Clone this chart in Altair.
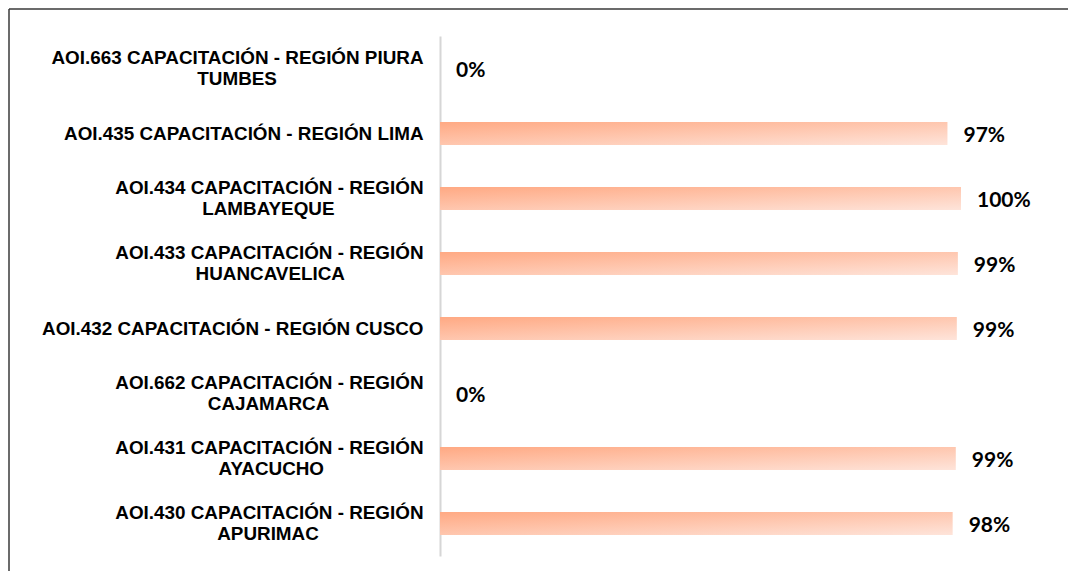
import altair as alt
import pandas as pd

# ---- data ----
line1 = [
    "AOI.663 CAPACITACIÓN - REGIÓN PIURA",
    "AOI.435 CAPACITACIÓN - REGIÓN LIMA",
    "AOI.434 CAPACITACIÓN - REGIÓN",
    "AOI.433 CAPACITACIÓN - REGIÓN",
    "AOI.432 CAPACITACIÓN - REGIÓN CUSCO",
    "AOI.662 CAPACITACIÓN - REGIÓN",
    "AOI.431 CAPACITACIÓN - REGIÓN",
    "AOI.430 CAPACITACIÓN - REGIÓN",
]
line2 = ["TUMBES", "", "LAMBAYEQUE", "HUANCAVELICA", "", "CAJAMARCA", "AYACUCHO", "APURIMAC"]
values = [0, 97.4, 100, 99.4, 99.2, 0, 99.0, 98.4]

# approximate Arial Bold advance widths (per 1000 em) to centre the 2nd line under the 1st
W = dict(A=722, B=722, C=722, D=722, E=667, F=611, G=778, H=722, I=278, J=556, K=722,
         L=611, M=833, N=722, O=778, P=667, Q=778, R=722, S=667, T=611, U=722, V=667,
         W=944, X=667, Y=667, Z=611)
W.update({d: 556 for d in "0123456789"})
W.update({".": 278, " ": 278, "-": 333, "Ó": 778})


def tw(s):
    return sum(W.get(c, 600) for c in s)


labels = []
for a, b in zip(line1, line2):
    if b:
        pad = round((tw(a) - tw(b)) / 2 / 278)
        # non-breaking spaces, closed by a zero-width space so they are not trimmed
        labels.append(a + "|" + b + "\u00a0" * pad + "\u200b")
    else:
        labels.append(a)

df = pd.DataFrame({"label": labels, "value": values})

grad = alt.Gradient(
    gradient="linear",
    stops=[alt.GradientStop(color="#ffa983", offset=0),
           alt.GradientStop(color="#fee4da", offset=1)],
    x1=0, y1=0, x2=1, y2=1,
)

yenc = alt.Y(
    "label:N",
    sort=labels,
    scale=alt.Scale(paddingInner=0.645, paddingOuter=0.3225),
    axis=alt.Axis(
        title=None,
        labelExpr="split(datum.label, '|')",
        labelFont="Liberation Sans",
        labelFontWeight="bold",
        labelFontSize=18.85,
        labelLineHeight=21,
        labelColor="#000000",
        labelLimit=600,
        labelPadding=17,
        labelOffset={"condition": {"test": "indexof(datum.label, '|') >= 0", "value": -10.5},
                     "value": 0},
        ticks=False,
        domainColor="#d6d6d6",
        domainWidth=2,
        grid=False,
    ),
)
xenc = alt.X("value:Q", scale=alt.Scale(domain=[0, 100], nice=False), axis=None)

base = alt.Chart(df)
bars = base.mark_bar(color=grad).encode(x=xenc, y=yenc)
text = base.transform_calculate(pct="format(datum.value / 100, '.0%')").mark_text(
    align="left", baseline="middle", dx=16, dy=2,
    font="Lato", fontSize=21, fontWeight="bold", color="#000000",
).encode(x=xenc, y=yenc, text="pct:N")

frame_df = pd.DataFrame({"k": [0]})
top_line = alt.Chart(frame_df).mark_rule(color="#3a3a3a", strokeWidth=1.5).encode(
    x=alt.value(-431), x2=alt.value(628), y=alt.value(-27))
left_line = alt.Chart(frame_df).mark_rule(color="#3a3a3a", strokeWidth=1.5).encode(
    x=alt.value(-431), y=alt.value(-27), y2=alt.value(535))

chart = alt.layer(bars, text, top_line, left_line).properties(
    width=521, height=520,
    autosize=alt.AutoSizeParams(type="none"),
    padding={"left": 432, "top": 28, "right": 107, "bottom": 15},
).configure_view(stroke=None)

chart.save("out.html", embed_options={"renderer": "svg", "actions": False})
